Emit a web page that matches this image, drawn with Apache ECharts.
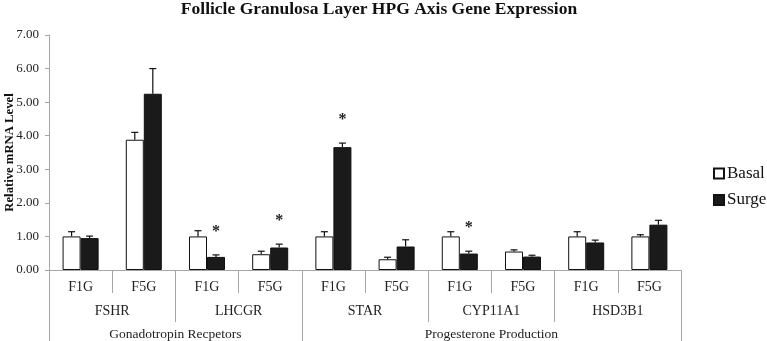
<!DOCTYPE html>
<html>
<head>
<meta charset="utf-8">
<script src="https://cdn.jsdelivr.net/npm/echarts@6/dist/echarts.min.js"></script>
<style>html,body{margin:0;padding:0;background:#fff}#c{width:767px;height:341px}</style>
</head>
<body>
<div id="c"></div>
<script>
var categories = ['F1G','F5G','F1G','F5G','F1G','F5G','F1G','F5G','F1G','F5G'];
var genes = ['FSHR','LHCGR','STAR','CYP11A1','HSD3B1'];
var groups = ['Gonadotropin Recpetors','Progesterone Production'];
var groupSpans = [4, 6];
var basal = [1.00, 3.88, 1.00, 0.47, 1.00, 0.32, 1.00, 0.55, 1.00, 1.00];
var basalErr = [1.14, 4.10, 1.17, 0.56, 1.14, 0.38, 1.14, 0.60, 1.14, 1.05];
var surge = [0.95, 5.25, 0.39, 0.67, 3.66, 0.70, 0.49, 0.40, 0.82, 1.35];
var surgeErr = [1.01, 6.00, 0.45, 0.77, 3.78, 0.90, 0.56, 0.44, 0.89, 1.48];
var surgeSig = [0, 0, 1, 1, 1, 0, 1, 0, 0, 0];
var yTicks = [0, 1, 2, 3, 4, 5, 6, 7];

var FONT = 'Liberation Serif';
var BAR_FRAC = 0.285;
var AXIS_GRAY = '#a6a6a6';

// group axis: points every half category; labels at group centers, ticks at group edges
var nHalf = categories.length * 2;
var groupAxisData = [];
var groupLabelIdx = {}, groupTickIdx = {0: true};
var acc = 0;
for (var g = 0; g < groups.length; g++) {
  groupLabelIdx[acc * 2 + groupSpans[g]] = groups[g];
  acc += groupSpans[g];
  groupTickIdx[acc * 2] = true;
}
for (var k = 0; k <= nHalf; k++) groupAxisData.push(groupLabelIdx[k] || ('_' + k));

function errSeries(name, vals, errs, sig, side) {
  var data = vals.map(function (v, i) { return [i, v, errs[i], sig ? sig[i] : 0]; });
  return {
    type: 'custom', name: name + 'Err', xAxisIndex: 0, yAxisIndex: 0, z: 5,
    data: data, encode: { x: 0, y: 2 }, silent: true, tooltip: { show: false },
    renderItem: function (params, api) {
      var i = api.value(0), v = api.value(1), e = api.value(2), s = api.value(3);
      var base = api.coord([i, v]);
      var top = api.coord([i, e]);
      var cw = api.size([1, 0])[0];
      var bw = cw * BAR_FRAC;
      var x = base[0] + side * bw / 2;
      var children = [
        { type: 'line', shape: { x1: x, y1: base[1], x2: x, y2: top[1] }, style: { stroke: '#111', lineWidth: 1.2 } },
        { type: 'line', shape: { x1: x - 3.5, y1: top[1], x2: x + 3.5, y2: top[1] }, style: { stroke: '#111', lineWidth: 1.2 } }
      ];
      if (s) {
        children.push({ type: 'text', style: { text: '*', x: x, y: top[1] - 23, textAlign: 'center', textVerticalAlign: 'middle', font: 'bold 16px ' + FONT, fill: '#222' } });
      }
      return { type: 'group', children: children };
    }
  };
}

var chart = echarts.init(document.getElementById('c'), null, { renderer: 'canvas' });
chart.setOption({
  animation: false,
  title: {
    text: 'Follicle Granulosa Layer HPG Axis Gene Expression',
    left: 379, top: 0, textAlign: 'center', padding: 0,
    textStyle: { fontFamily: FONT, fontWeight: 'bold', fontSize: 17.5, color: '#111' }
  },
  legend: {
    orient: 'vertical', left: 713, top: 165, padding: 0, itemWidth: 10, itemHeight: 10, itemGap: 9.5,
    icon: 'rect', data: ['Basal', 'Surge'],
    textStyle: { fontFamily: FONT, fontSize: 17, color: '#111', padding: [0, 0, 0, -2] }
  },
  grid: { left: 49, right: 86, top: 35, bottom: 71, containLabel: false, outerBoundsMode: 'none' },
  xAxis: [
    {
      type: 'category', data: categories, position: 'bottom',
      axisLine: { show: true, lineStyle: { color: AXIS_GRAY, width: 1 } },
      axisTick: { show: true, interval: 0, length: 23, lineStyle: { color: AXIS_GRAY } },
      axisLabel: { interval: 0, margin: 10, fontFamily: FONT, fontSize: 14, color: '#222' }
    },
    {
      type: 'category', data: genes, position: 'bottom',
      axisLine: { show: false },
      axisTick: { show: true, interval: 0, length: 52, lineStyle: { color: AXIS_GRAY } },
      axisLabel: { interval: 0, margin: 34, fontFamily: FONT, fontSize: 14, color: '#222' }
    },
    {
      type: 'category', data: groupAxisData, position: 'bottom', boundaryGap: false,
      axisLine: { show: false },
      axisTick: { show: true, length: 71, lineStyle: { color: AXIS_GRAY },
        interval: function (idx) { return !!groupTickIdx[idx]; } },
      axisLabel: { margin: 57, fontFamily: FONT, fontSize: 13.5, color: '#222',
        interval: function (idx) { return !!groupLabelIdx[idx]; },
        formatter: function (v) { return v.charAt(0) === '_' ? '' : v; } }
    }
  ],
  yAxis: {
    type: 'value', min: yTicks[0], max: yTicks[yTicks.length - 1], interval: 1,
    name: 'Relative mRNA Level', nameLocation: 'middle', nameRotate: 90, nameGap: 33,
    nameMoveOverlap: false,
    nameTextStyle: { fontFamily: FONT, fontWeight: 'bold', fontSize: 12.7, color: '#111' },
    axisLine: { show: true, lineStyle: { color: AXIS_GRAY } },
    axisTick: { show: true, length: 4, lineStyle: { color: AXIS_GRAY } },
    splitLine: { show: false },
    axisLabel: { margin: 10, fontFamily: FONT, fontSize: 13, color: '#222', formatter: function (v) { return v.toFixed(2); } }
  },
  series: [
    { type: 'bar', name: 'Basal', data: basal, xAxisIndex: 0, barWidth: (BAR_FRAC * 100) + '%', barGap: '0%',
      itemStyle: { color: '#ffffff', borderColor: '#111', borderWidth: 1 } },
    { type: 'bar', name: 'Surge', data: surge, xAxisIndex: 0, barWidth: (BAR_FRAC * 100) + '%', barGap: '0%',
      itemStyle: { color: '#1a1a1a', borderColor: '#111', borderWidth: 1 } },
    errSeries('Basal', basal, basalErr, null, -1),
    errSeries('Surge', surge, surgeErr, surgeSig, 1)
  ]
});
</script>
</body>
</html>
